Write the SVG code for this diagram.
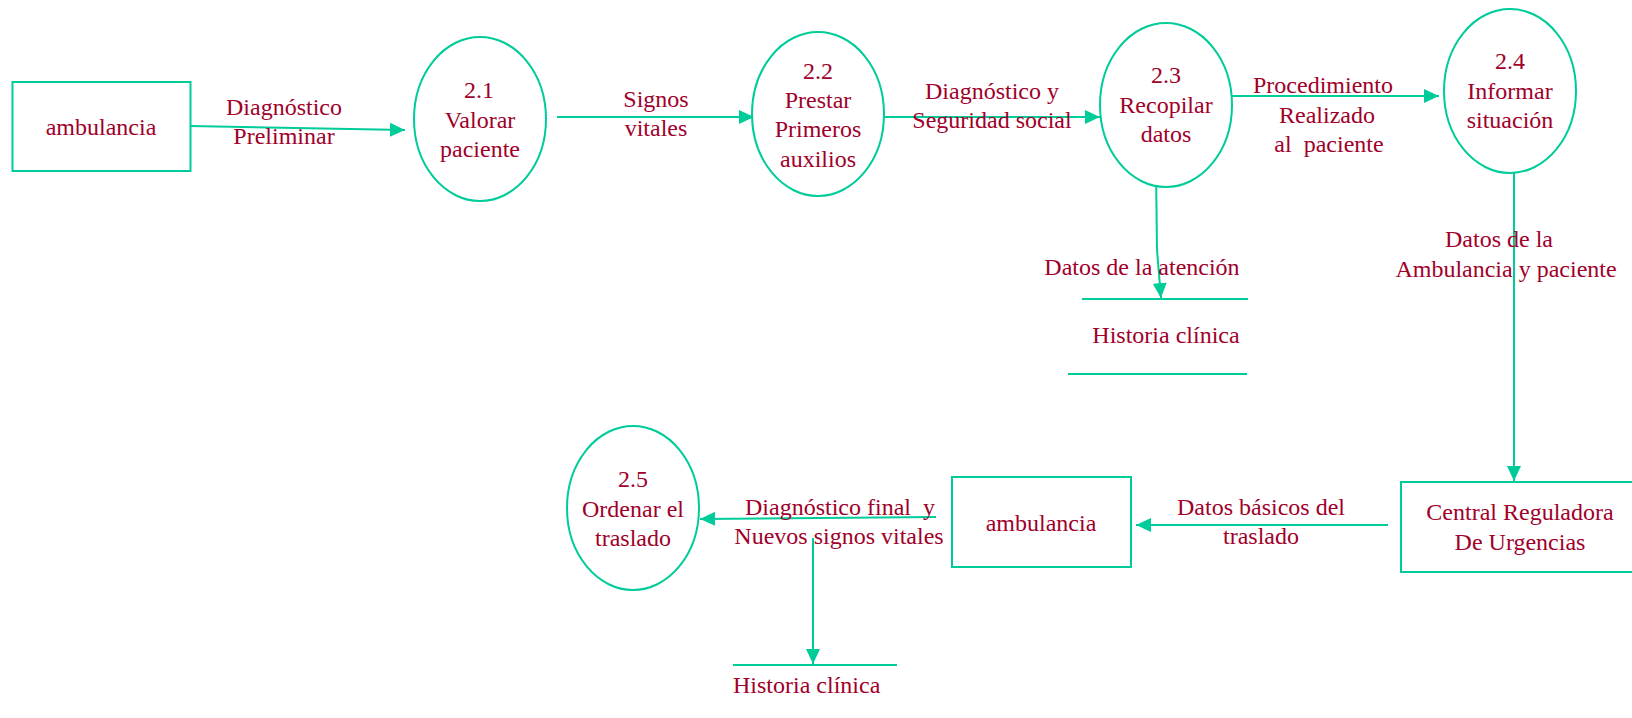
<svg xmlns="http://www.w3.org/2000/svg" width="1632" height="718" viewBox="0 0 1632 718">
<defs>
<style>
.s{fill:none;stroke:#00CC99;stroke-width:2}
.n{fill:#fff;stroke:#00CC99;stroke-width:2}
text{font-family:"Liberation Serif","Times New Roman",serif;font-size:24px;fill:#A0002A}
.m{text-anchor:middle}
</style>
<marker id="ah" markerUnits="userSpaceOnUse" markerWidth="16" markerHeight="16" refX="15" refY="7" orient="auto" viewBox="0 0 16 14">
<path d="M0,0 L15,7 L0,14 z" fill="#00CC99"/>
</marker>
</defs>
<rect width="1632" height="718" fill="#fff"/>
<g id="connectors">
<line class="s" x1="190" y1="126" x2="405" y2="130" marker-end="url(#ah)"/>
<line class="s" x1="557" y1="117" x2="754" y2="117" marker-end="url(#ah)"/>
<line class="s" x1="868" y1="117" x2="1100" y2="117" marker-end="url(#ah)"/>
<line class="s" x1="1216" y1="96" x2="1439" y2="96" marker-end="url(#ah)"/>
<polyline class="s" points="1156,169 1157,250 1161,298" marker-end="url(#ah)"/>
<line class="s" x1="1514" y1="173" x2="1514" y2="481" marker-end="url(#ah)"/>
<line class="s" x1="1388" y1="525" x2="1136" y2="525" marker-end="url(#ah)"/>
<line class="s" x1="936" y1="517" x2="700" y2="519" marker-end="url(#ah)"/>
<line class="s" x1="813" y1="538" x2="813" y2="664" marker-end="url(#ah)"/>
<text class="m" x="284" y="115">Diagnóstico</text>
<text class="m" x="284" y="144">Preliminar</text>
<text class="m" x="656" y="107">Signos</text>
<text class="m" x="656" y="136">vitales</text>
<text class="m" x="992" y="99">Diagnóstico y</text>
<text class="m" x="992" y="128">Seguridad social</text>
<text class="m" x="1323" y="93">Procedimiento</text>
<text class="m" x="1327" y="123">Realizado</text>
<text class="m" x="1329" y="152" xml:space="preserve">al  paciente</text>
<text class="m" x="1142" y="275">Datos de la atención</text>
<text class="m" x="1499" y="247">Datos de la</text>
<text class="m" x="1506" y="277">Ambulancia y paciente</text>
<text class="m" x="1261" y="515">Datos básicos del</text>
<text class="m" x="1261" y="544">traslado</text>
<text class="m" x="840" y="515" xml:space="preserve">Diagnóstico final  y</text>
<text class="m" x="839" y="544">Nuevos signos vitales</text>
</g>
<g id="ext-ambulancia1">
<rect class="n" x="12.5" y="82" width="178" height="89"/>
<text class="m" x="101" y="135">ambulancia</text>
</g>
<g id="p21">
<ellipse class="n" cx="480" cy="119" rx="66" ry="82"/>
<text class="m" x="479" y="98">2.1</text>
<text class="m" x="480" y="128">Valorar</text>
<text class="m" x="480" y="157">paciente</text>
</g>
<g id="p22">
<ellipse class="n" cx="818" cy="114" rx="66" ry="82"/>
<text class="m" x="818" y="79">2.2</text>
<text class="m" x="818" y="108">Prestar</text>
<text class="m" x="818" y="137">Primeros</text>
<text class="m" x="818" y="167">auxilios</text>
</g>
<g id="p23">
<ellipse class="n" cx="1166" cy="105" rx="66" ry="82"/>
<text class="m" x="1166" y="83">2.3</text>
<text class="m" x="1166" y="113">Recopilar</text>
<text class="m" x="1166" y="142">datos</text>
</g>
<g id="p24">
<ellipse class="n" cx="1510" cy="91" rx="66" ry="82"/>
<text class="m" x="1510" y="69">2.4</text>
<text class="m" x="1510" y="99">Informar</text>
<text class="m" x="1510" y="128">situación</text>
</g>
<g id="store-historia1">
<line class="s" x1="1082" y1="299" x2="1248" y2="299"/>
<line class="s" x1="1068" y1="374" x2="1247" y2="374"/>
<text class="m" x="1166" y="343">Historia clínica</text>
</g>
<g id="ext-central">
<rect class="n" x="1401" y="482" width="232" height="90"/>
<text class="m" x="1520" y="520">Central Reguladora</text>
<text class="m" x="1520" y="550">De Urgencias</text>
</g>
<g id="ext-ambulancia2">
<rect class="n" x="952" y="477" width="179" height="90"/>
<text class="m" x="1041" y="531">ambulancia</text>
</g>
<g id="p25">
<ellipse class="n" cx="633" cy="508" rx="66" ry="82"/>
<text class="m" x="633" y="487">2.5</text>
<text class="m" x="633" y="517">Ordenar el</text>
<text class="m" x="633" y="546">traslado</text>
</g>
<g id="store-historia2">
<line class="s" x1="733" y1="665" x2="897" y2="665"/>
<text x="733" y="693">Historia clínica</text>
</g>
</svg>
